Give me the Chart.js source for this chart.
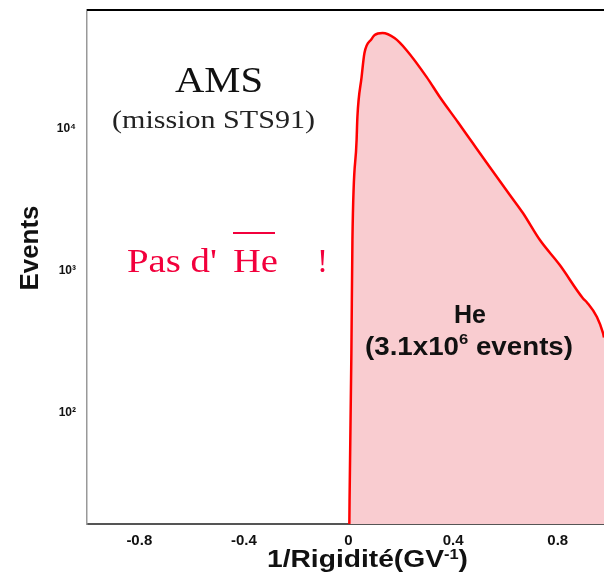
<!DOCTYPE html>
<html>
<head>
<meta charset="utf-8">
<script src="https://cdn.jsdelivr.net/npm/chart.js@4/dist/chart.umd.min.js"></script>
<style>
html,body{margin:0;padding:0;background:#fff;overflow:hidden;}
canvas{display:block;}
</style>
</head>
<body>
<canvas id="c" width="604" height="579"></canvas>
<script>
// ---- data ----
const rigidity = [0.003, 0.004, 0.011, 0.015, 0.031, 0.034, 0.050, 0.061, 0.088, 0.100, 0.130, 0.176, 0.222, 0.299, 0.349, 0.418, 0.475, 0.540, 0.617, 0.667, 0.732, 0.808, 0.897, 0.912, 0.950, 0.973, 0.977];
const events   = [15, 24, 263, 1650, 8400, 12150, 23200, 34300, 43000, 45900, 47400, 43700, 35900, 23200, 16800, 11200, 7960, 5400, 3430, 2560, 1650, 1100, 640, 600, 474, 366, 340];
const xTickValues = [-0.8, -0.4, 0, 0.4, 0.8];
const yTickValues = [100, 1000, 10000];
const xRange = [-1.0, 0.977];
const yRange = [16.5, 68900];

const SUP = {'0':'\u2070','1':'\u00b9','2':'\u00b2','3':'\u00b3','4':'\u2074','5':'\u2075','6':'\u2076','7':'\u2077','8':'\u2078','9':'\u2079'};

function drawRich(ctx, parts, x, y, width, color, align) {
  ctx.save();
  ctx.fillStyle = color;
  ctx.textBaseline = 'alphabetic';
  ctx.textAlign = 'left';
  let total = 0;
  parts.forEach(p => { ctx.font = p.font; p.w = ctx.measureText(p.t).width; total += p.w; });
  const sx = width ? width / total : 1;
  let x0 = x;
  if (align === 'center') x0 = x - total * sx / 2;
  ctx.translate(x0, y);
  ctx.scale(sx, 1);
  let cx = 0;
  parts.forEach(p => { ctx.font = p.font; ctx.fillText(p.t, cx, p.dy || 0); cx += p.w; });
  ctx.restore();
}

const annotations = {
  id: 'annotations',
  afterDraw(chart) {
    const ctx = chart.ctx;
    const ca = chart.chartArea;
    // top frame line
    ctx.save();
    ctx.strokeStyle = '#000';
    ctx.lineWidth = 2;
    ctx.beginPath();
    ctx.moveTo(ca.left, ca.top);
    ctx.lineTo(chart.width, ca.top);
    ctx.stroke();
    ctx.restore();

    const serif = '"Liberation Serif", "DejaVu Serif", serif';
    const sans = '"Liberation Sans", Arial, sans-serif';
    drawRich(ctx, [{t:'AMS', font:'36px ' + serif}], 175, 92, 88, '#111');
    drawRich(ctx, [{t:'(mission STS91)', font:'25px ' + serif}], 112, 128, 203, '#222');

    const red = '#f2003c';
    drawRich(ctx, [{t:"Pas d'", font:'33px ' + serif}], 127, 272, 90, red);
    drawRich(ctx, [{t:'He', font:'33px ' + serif}], 233, 272, 45, red);
    drawRich(ctx, [{t:'!', font:'33px ' + serif}], 317, 272, 0, red);
    ctx.save();
    ctx.strokeStyle = red;
    ctx.lineWidth = 2;
    ctx.beginPath();
    ctx.moveTo(233, 233);
    ctx.lineTo(275, 233);
    ctx.stroke();
    ctx.restore();

    drawRich(ctx, [{t:'He', font:'bold 25px ' + sans}], 470, 323, 0, '#111', 'center');
    drawRich(ctx, [
      {t:'(3.1x10', font:'bold 25px ' + sans},
      {t:'6', font:'bold 15px ' + sans, dy:-11},
      {t:' events)', font:'bold 25px ' + sans}
    ], 365, 355, 208, '#111');

    // axis titles
    drawRich(ctx, [
      {t:'1/Rigidité(GV', font:'bold 24px ' + sans},
      {t:'-1', font:'bold 14px ' + sans, dy:-8},
      {t:')', font:'bold 24px ' + sans}
    ], 267, 567, 201, '#111');

    ctx.save();
    ctx.translate(38, 248);
    ctx.rotate(-Math.PI / 2);
    drawRich(ctx, [{t:'Events', font:'bold 26px ' + sans}], 0, 0, 85, '#111', 'center');
    ctx.restore();
  }
};

const points = rigidity.map((x, i) => ({x: x, y: events[i]}));

new Chart(document.getElementById('c'), {
  type: 'line',
  data: {
    datasets: [{
      label: 'He',
      data: points,
      borderColor: '#ff0000',
      borderWidth: 2.5,
      backgroundColor: '#f9ccd0',
      fill: 'start',
      pointRadius: 0,
      cubicInterpolationMode: 'monotone'
    }]
  },
  options: {
    responsive: false,
    animation: false,
    layout: {padding: {top: 10, right: 0, left: 0, bottom: 0}},
    plugins: {legend: {display: false}, tooltip: {enabled: false}, title: {display: false}},
    scales: {
      x: {
        type: 'linear',
        min: xRange[0],
        max: xRange[1],
        afterBuildTicks: s => { s.ticks = xTickValues.map(v => ({value: v})); },
        afterFit: s => { s.height = 55; s.paddingLeft = 0; s.paddingRight = 0; },
        grid: {display: false, drawTicks: false},
        border: {display: true, color: '#555', width: 2},
        ticks: {
          font: {family: '"Liberation Sans", Arial, sans-serif', size: 15, weight: 'bold'},
          color: '#111',
          padding: 8,
          maxRotation: 0,
          autoSkip: false,
          callback: v => String(v)
        }
      },
      y: {
        type: 'logarithmic',
        min: yRange[0],
        max: yRange[1],
        afterBuildTicks: s => { s.ticks = yTickValues.map(v => ({value: v})); },
        afterFit: s => { s.width = 87; s.paddingTop = 0; s.paddingBottom = 0; },
        grid: {display: false, drawTicks: false},
        border: {display: true, color: '#999', width: 1.5},
        ticks: {
          font: {family: '"Liberation Sans", Arial, sans-serif', size: 12, weight: 'bold'},
          color: '#111',
          padding: 11,
          autoSkip: false,
          callback: v => '10' + SUP[String(Math.round(Math.log10(v)))]
        }
      }
    }
  },
  plugins: [annotations]
});
</script>
</body>
</html>
